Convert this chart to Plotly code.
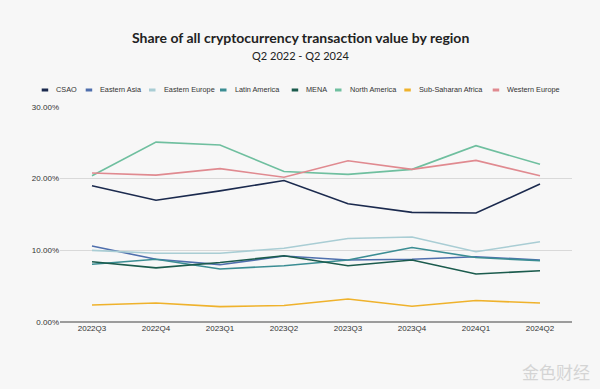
import plotly.graph_objects as go

quarters = ["2022Q3", "2022Q4", "2023Q1", "2023Q2", "2023Q3", "2023Q4", "2024Q1", "2024Q2"]

csao = [19.0, 17.0, 18.3, 19.75, 16.5, 15.3, 15.2, 19.25]
eastern_asia = [10.6, 8.75, 8.0, 9.2, 8.65, 8.75, 9.1, 8.65]
eastern_europe = [10.0, 9.6, 9.6, 10.3, 11.65, 11.85, 9.8, 11.2]
latin_america = [8.05, 8.75, 7.4, 7.85, 8.65, 10.4, 9.0, 8.55]
mena = [8.4, 7.55, 8.3, 9.25, 7.85, 8.65, 6.7, 7.15]
north_america = [20.4, 25.1, 24.7, 21.0, 20.6, 21.3, 24.6, 22.0]
sub_saharan = [2.37, 2.65, 2.14, 2.3, 3.2, 2.2, 3.0, 2.65]
western_europe = [20.8, 20.5, 21.4, 20.2, 22.5, 21.3, 22.55, 20.4]

names = ["CSAO", "Eastern Asia", "Eastern Europe", "Latin America", "MENA",
         "North America", "Sub-Saharan Africa", "Western Europe"]
series = [csao, eastern_asia, eastern_europe, latin_america, mena,
          north_america, sub_saharan, western_europe]
colors = ["#1b2a4e", "#4f6fad", "#a9cdd4", "#3b8d93", "#1b5b4d",
          "#6fbf9f", "#efb22c", "#e08a90"]

y_tick_vals = [0, 10, 20, 30]
y_tick_text = ["0.00%", "10.00%", "20.00%", "30.00%"]

# legend layout (pixel x positions of the small dashes)
legend_dash_x = [41.7, 85.7, 149.0, 220.0, 291.7, 335.0, 404.3, 492.7]

W, H = 600, 389
ML, MR, MT, MB = 60, 28, 107, 67
PW, PH = W - ML - MR, H - MT - MB


def px(x):
    return (x - ML) / PW


def py(y):
    return (H - y - MB) / PH


fig = go.Figure()
for n, s, c in zip(names, series, colors):
    fig.add_trace(go.Scatter(x=quarters, y=s, name=n, mode="lines",
                             line=dict(color=c, width=1.6), showlegend=False))

shapes = []
annotations = []
for n, c, dx in zip(names, colors, legend_dash_x):
    shapes.append(dict(type="line", xref="paper", yref="paper",
                       x0=px(dx), x1=px(dx + 6.5), y0=py(90), y1=py(90),
                       line=dict(color=c, width=3)))
    annotations.append(dict(text=n, xref="paper", yref="paper",
                            x=px(dx + 12.5), y=py(90),
                            xanchor="left", yanchor="middle", showarrow=False,
                            font=dict(family="Liberation Sans, Arial", size=7.3, color="#333333")))

annotations.append(dict(text="<b>Share of all cryptocurrency transaction value by region</b>",
                        xref="paper", yref="paper", x=px(300), y=py(37),
                        xanchor="center", yanchor="middle", showarrow=False,
                        font=dict(family="Lato, Inter, sans-serif", size=14, color="#222222")))
annotations.append(dict(text="Q2 2022 - Q2 2024",
                        xref="paper", yref="paper", x=px(300), y=py(56),
                        xanchor="center", yanchor="middle", showarrow=False,
                        font=dict(family="Lato, Inter, sans-serif", size=11, color="#222222")))
annotations.append(dict(text="金色财经",
                        xref="paper", yref="paper", x=px(592), y=py(371),
                        xanchor="right", yanchor="middle", showarrow=False,
                        font=dict(family="Noto Sans CJK SC", size=17, color="#d4d4d4")))

fig.update_layout(
    width=W, height=H,
    margin=dict(l=ML, r=MR, t=MT, b=MB, autoexpand=False),
    paper_bgcolor="#f7f7f7", plot_bgcolor="#f7f7f7",
    shapes=shapes, annotations=annotations,
    showlegend=False,
    xaxis=dict(type="category", range=[-0.5, 7.5], showgrid=False, ticks="",
               tickfont=dict(family="Liberation Sans, Arial", size=8, color="#333333"),
               showline=False, zeroline=False, automargin=False),
    yaxis=dict(range=[0, 30], tickvals=y_tick_vals, ticktext=y_tick_text,
               showgrid=True, gridcolor="#d9d9d9", gridwidth=1.3,
               zeroline=True, zerolinecolor="#9c9c9c", zerolinewidth=2,
               tickfont=dict(family="Liberation Sans, Arial", size=8, color="#333333"),
               ticks="", ticklen=0, automargin=False),
)
fig.write_html("out.html", config={"displayModeBar": False},
               post_script="document.body.style.margin='0';document.body.style.overflow='hidden';")
